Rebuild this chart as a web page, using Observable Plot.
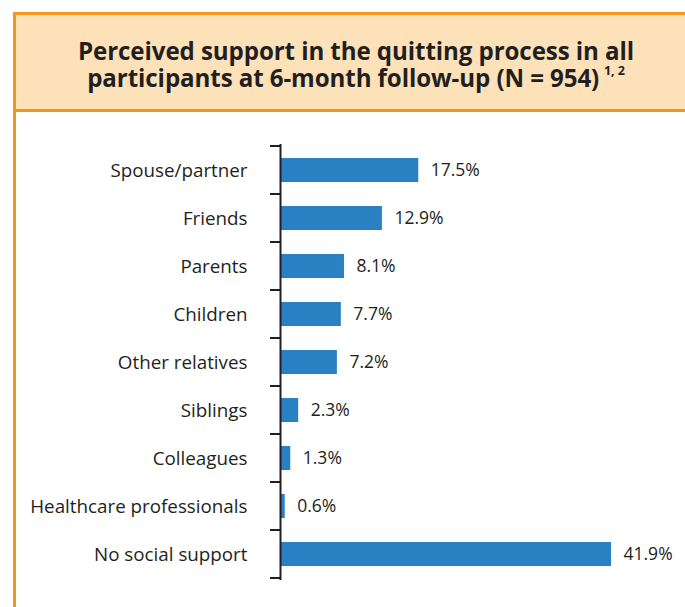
<!DOCTYPE html>
<html>
<head>
<meta charset="utf-8">
<script src="https://cdn.jsdelivr.net/npm/d3@7"></script>
<script src="https://cdn.jsdelivr.net/npm/@observablehq/plot@0.6"></script>
<style>
  html, body { margin: 0; padding: 0; background: #fff; width: 685px; height: 607px; overflow: hidden; }
  #frame {
    position: absolute; left: 13px; top: 12px; width: 700px; height: 620px;
    border-left: 3px solid #f7941d; border-top: 3px solid #f7941d;
  }
  #title {
    height: 94px; background: #fde2b9; border-bottom: 3px solid #f7941d;
    position: relative;
  }
  #title .lines {
    position: absolute; left: 0; top: 22px; width: 680px; text-align: center;
    font-family: "Open Sans", sans-serif; font-weight: bold;
    font-size: 25px; line-height: 27px; color: #231f20;
    transform: scaleX(0.965); transform-origin: 340px 0;
    letter-spacing: -0.1px;
  }
  #title .lines > div { height: 27px; }
  #title sup { display: inline-block; font-size: 13px; line-height: 13px; vertical-align: top; margin-left: 5px; }
  #chart { position: absolute; left: 0; top: 97px; }
</style>
</head>
<body>
<div id="frame">
  <div id="title"><div class="lines">
    <div><span>Perceived support in the quitting process in all</span></div>
    <div><span>participants at 6-month follow-up (N = 954)</span><sup>1, 2</sup></div>
  </div></div>
  <div id="chart"></div>
</div>
<script>
const categories = ["Spouse/partner", "Friends", "Parents", "Children", "Other relatives", "Siblings", "Colleagues", "Healthcare professionals", "No social support"];
const values = [17.5, 12.9, 8.1, 7.7, 7.2, 2.3, 1.3, 0.6, 41.9];
const data = categories.map((c, i) => ({category: c, value: values[i]}));

const W = 669, H = 495;
const font = "'Open Sans', sans-serif";
const plot = Plot.plot({
  width: W, height: H,
  marginLeft: 264, marginRight: 10, marginTop: 32, marginBottom: 27,
  style: {fontFamily: font, fontSize: "18.8px", color: "#231f20", background: "transparent"},
  x: {domain: [0, 50], axis: null},
  y: {domain: categories, paddingInner: 0.5, paddingOuter: 0.25, label: null, tickSize: 0, tickPadding: 33},
  marks: [
    Plot.barX(data, {x: "value", y: "category", fill: "#2981c3"}),
    Plot.ruleX([0], {stroke: "#231f20", strokeWidth: 2}),
    Plot.text(data, {x: "value", y: "category", text: d => d.value.toFixed(1) + "%", dx: 12, textAnchor: "start", fill: "#231f20", fontSize: 17.5})
  ]
});
// boundary ticks between categories
const ys = plot.scale("y");
const svg = d3.select(plot);
const ml = 264;
const bounds = categories.map(c => ys.apply(c) + ys.bandwidth / 2 - ys.step / 2);
bounds.push(bounds[bounds.length - 1] + ys.step);
svg.append("g").selectAll("line").data(bounds).join("line")
  .attr("x1", ml - 10).attr("x2", ml).attr("y1", d => d).attr("y2", d => d)
  .attr("stroke", "#231f20").attr("stroke-width", 2);
document.getElementById("chart").appendChild(plot);
</script>
</body>
</html>
